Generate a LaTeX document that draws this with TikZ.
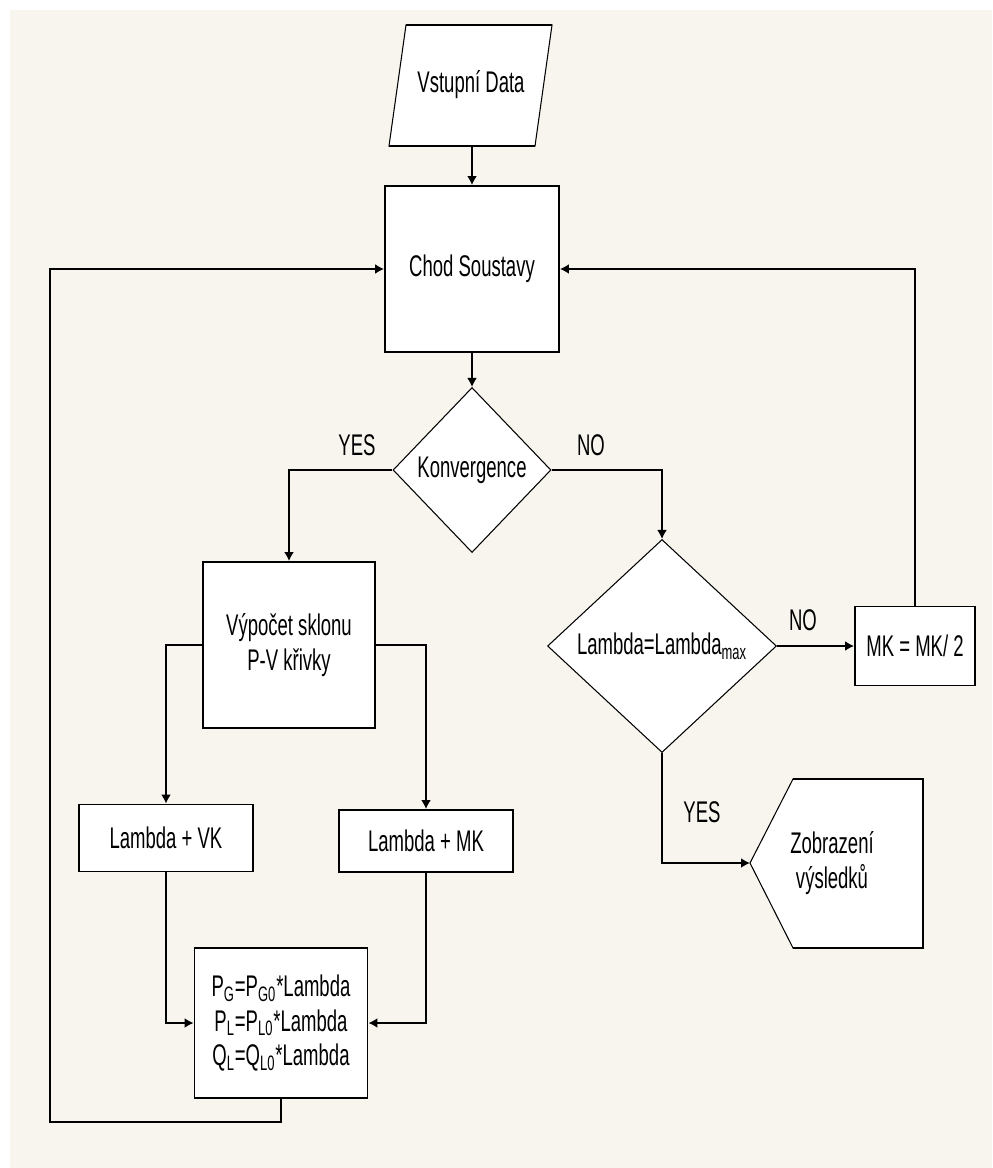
\documentclass[tikz,border=0pt]{standalone}
\usepackage{fontspec}
\setmainfont[FakeStretch=0.62]{Liberation Sans}
\usepackage{tikz}
\usetikzlibrary{shapes.geometric,arrows.meta}
\definecolor{paperCream}{RGB}{248,245,238}
\newcommand{\boxWidth}{3.48cm}
\newcommand{\flowFont}{\fontsize{17}{19.6}\selectfont}
\tikzset{
	flowLine/.style={line width=1.1pt},
	flowThin/.style={line width=0.6pt},
	flowBox/.style={draw, flowLine, fill=white, minimum width=\boxWidth, align=center, inner sep=0pt, font=\flowFont},
	flowDiamond/.style={diamond, draw, flowThin, fill=white, inner sep=0pt, aspect=1, font=\flowFont},
	flowArrow/.style={flowLine, -{Latex[length=0.18cm,width=0.2cm]}},
	flowLabel/.style={font=\flowFont, align=center}
}
\begin{document}
\begin{tikzpicture}[x=0.02cm, y=-0.02cm]
	\useasboundingbox (0,0) rectangle (992,1168);
	\fill[paperCream] (10,10) rectangle (992,1168);
	
	% input data
	\filldraw[fill=white, flowThin] (389,146) -- (406,25) -- (552,25) -- (535,146) -- cycle;
	\draw[flowLine] (389,146) -- (535,146) (406,25) -- (552,25);
	\node[flowLabel] (vstup) at (471,85) {Vstupní Data};
	\coordinate (vstupBottom) at (472,146);
	
	% main blocks
	\node[flowBox, minimum height=3.32cm] (chod) at (472,269) {Chod Soustavy};
	\node[flowDiamond, minimum width=3.16cm, minimum height=3.3cm] (konv) at (472,470) {Konvergence};
	\node[flowBox, minimum width=3.44cm, minimum height=3.32cm] (vyp) at (289,645) {Výpočet sklonu\\P-V křivky};
	\node[flowBox, minimum height=1.34cm] (vk) at (166,838) {Lambda + VK};
	\node[flowBox, minimum height=1.24cm] (mk) at (426,841) {Lambda + MK};
	\node[flowBox, minimum width=3.46cm, minimum height=3cm] (pg) at (281,1023) {P\textsubscript{G}=P\textsubscript{G0}*Lambda\\P\textsubscript{L}=P\textsubscript{L0}*Lambda\\Q\textsubscript{L}=Q\textsubscript{L0}*Lambda};
	\node[flowDiamond, minimum width=4.58cm, minimum height=4.26cm] (lambda) at (662,646) {Lambda=Lambda\textsubscript{max}};
	\node[flowBox, minimum width=2.4cm, minimum height=1.58cm] (mkHalf) at (915,646) {MK = MK/ 2};
	
	% display
	\filldraw[fill=white, flowThin] (750,863) -- (793,779) -- (923,779) -- (923,948) -- (793,948) -- cycle;
	\draw[flowLine] (793,779) -- (923,779) -- (923,948) -- (793,948);
	\node[flowLabel] (zobraz) at (832,863) {Zobrazení\\výsledků};
	\coordinate (zobrazTip) at (750,863);
	
	% labels
	\node[flowLabel] (yesKonv) at (357,445) {YES};
	\node[flowLabel] (noKonv) at (591,445) {NO};
	\node[flowLabel] (noLambda) at (803,620) {NO};
	\node[flowLabel] (yesLambda) at (702,812) {YES};
	
	% connectors
	\coordinate (loopCorner) at (50,1122);
	\draw[flowArrow] (vstupBottom) -- (chod.north);
	\draw[flowArrow] (chod.south) -- (konv.north);
	\draw[flowArrow] (konv.west) -| (vyp.north);
	\draw[flowArrow] (konv.east) -| (lambda.north);
	\draw[flowArrow] (vyp.west) -| (vk.north);
	\draw[flowArrow] (vyp.east) -| (mk.north);
	\draw[flowArrow] (vk.south) |- (pg.west);
	\draw[flowArrow] (mk.south) |- (pg.east);
	\draw[flowArrow] (lambda.east) -- (mkHalf.west);
	\draw[flowArrow] (lambda.south) |- (zobrazTip);
	\draw[flowArrow] (mkHalf.north) |- (chod.east);
	\draw[flowArrow] (pg.south) |- (loopCorner) |- (chod.west);
\end{tikzpicture}
\end{document}
